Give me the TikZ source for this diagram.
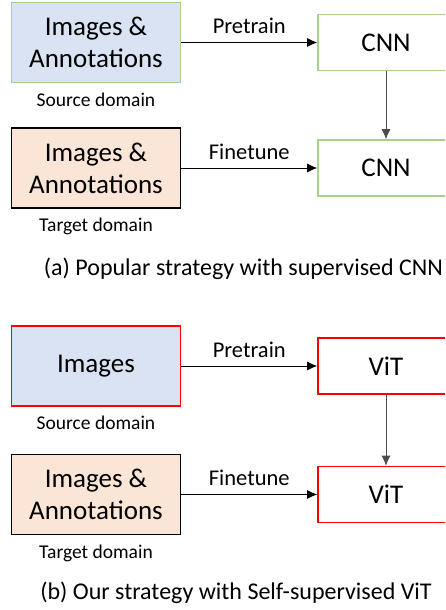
\documentclass[tikz,border=0pt]{standalone}
\usepackage{fontspec}
\setmainfont{Carlito}
\usetikzlibrary{arrows.meta,positioning}
\definecolor{srcfill}{HTML}{DAE3F3}
\definecolor{tgtfill}{HTML}{FBE5D6}
\definecolor{cnnline}{HTML}{A9D18E}
\definecolor{vitline}{HTML}{FF0000}

\begin{document}
\begin{tikzpicture} [>={Latex[length=10pt,width=9pt]}, x=1pt, y=-1pt,
	datum/.style={draw, line width=1.6pt, minimum width=169pt, minimum height=80pt, inner sep=0pt, align=center, font=\fontsize{27}{32}\selectfont},
	model/.style={draw, line width=1.6pt, minimum width=136pt, minimum height=56pt, inner sep=0pt, font=\fontsize{27}{32}\selectfont},
	domainlbl/.style={inner sep=2pt, font=\fontsize{19.5}{23}\selectfont},
	phase/.style={font=\fontsize{22.5}{27}\selectfont},
	subcap/.style={anchor=base, inner sep=0pt, font=\fontsize{24}{28}\selectfont}]
				\useasboundingbox (0,0) rectangle (445,610);
				\clip (0,0) rectangle (445,610);
				%\draw[help lines] (0,0) grid[step=50] (445,610);
				% (a) supervised CNN
				\node[datum, fill=srcfill, draw=cnnline] (srcA) at (96,42.5) {Images \&\\Annotations};
				\node[model, draw=cnnline] (cnnA) at (386,42.5) {CNN};
				\node[domainlbl, below=7pt of srcA] (srcAlbl) {Source domain};
				\node[datum, fill=tgtfill, draw=black] (tgtA) at (96,168) {Images \&\\Annotations};
				\node[model, draw=cnnline] (cnnB) at (386,168) {CNN};
				\node[domainlbl, below=7pt of tgtA] (tgtAlbl) {Target domain};
				\draw[->, line width=1pt] (srcA) -- (cnnA) node [pos = 0.5, above=5pt, phase] {Pretrain};
				\draw[->, line width=1pt, black!70] (cnnA) -- (cnnB);
				\draw[->, line width=1pt] (tgtA) -- (cnnB) node [pos = 0.5, above=5pt, phase] {Finetune};
				\node[subcap] (capA) at (243.5,275) {(a) Popular strategy with supervised CNN};
				% (b) self-supervised ViT
				\node[datum, fill=srcfill, draw=vitline] (srcB) at (96,366) {Images};
				\node[model, draw=vitline] (vitA) at (386,366) {ViT};
				\node[domainlbl, below=7pt of srcB] (srcBlbl) {Source domain};
				\node[datum, fill=tgtfill, draw=black] (tgtB) at (96,494.5) {Images \&\\Annotations};
				\node[model, draw=vitline] (vitB) at (386,494.5) {ViT};
				\node[domainlbl, below=7pt of tgtB] (tgtBlbl) {Target domain};
				\draw[->, line width=1pt] (srcB) -- (vitA) node [pos = 0.5, above=5pt, phase] {Pretrain};
				\draw[->, line width=1pt, black!70] (vitA) -- (vitB);
				\draw[->, line width=1pt] (tgtB) -- (vitB) node [pos = 0.5, above=5pt, phase] {Finetune};
				\node[subcap] (capB) at (236,599) {(b) Our strategy with Self-supervised ViT};
			\end{tikzpicture}
\end{document}
